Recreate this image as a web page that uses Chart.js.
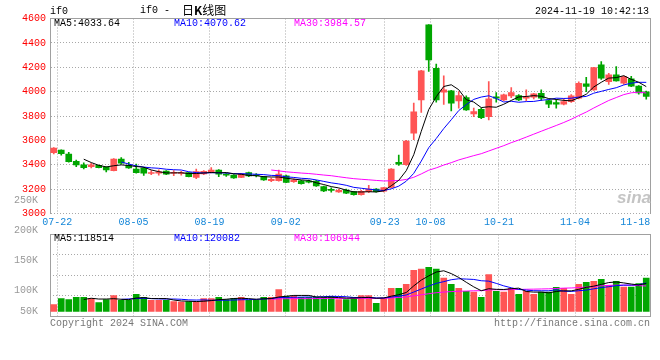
<!DOCTYPE html>
<html>
<head>
<meta charset="utf-8">
<script src="https://cdn.jsdelivr.net/npm/chart.js@4.4.1/dist/chart.umd.min.js"></script>
<style>
  body { margin: 0; background: #fff; width: 660px; height: 360px; overflow: hidden; position: relative;
         font-family: "Liberation Mono", "DejaVu Sans Mono", monospace; font-size: 10px; }
  canvas { position: absolute; left: 0; top: 0; }
  .t { position: absolute; white-space: pre; line-height: 12px; }
</style>
</head>
<body>
<canvas id="k" width="660" height="360"></canvas>
<canvas id="v" width="660" height="360"></canvas>

<div class="t" style="left:50px;top:6px">if0</div>
<div class="t" style="left:140px;top:5px">if0 -</div>
<div class="t" style="left:182px;top:2px;font:12px/16px 'Noto Sans CJK SC'">日<b>K</b>线图</div>
<div class="t" style="left:535px;top:6px">2024-11-19 10:42:13</div>

<div class="t" style="left:54px;top:18px;color:#000">MA5:4033.64</div>
<div class="t" style="left:174px;top:18px;color:#0000ff">MA10:4070.62</div>
<div class="t" style="left:294px;top:18px;color:#ff00ff">MA30:3984.57</div>

<div class="t" style="left:54px;top:233px;color:#000">MA5:118514</div>
<div class="t" style="left:174px;top:233px;color:#0000ff">MA10:120082</div>
<div class="t" style="left:294px;top:233px;color:#ff00ff">MA30:106944</div>

<div class="t" style="left:50px;top:318px;color:#777">Copyright 2024 SINA.COM</div>
<div class="t" style="left:494px;top:318px;color:#777">http://finance.sina.com.cn</div>
<div class="t" style="left:617px;top:188px;color:#c4c4c4;font:italic bold 17px/20px 'Liberation Sans'">sina</div>

<script>
// trading days shown (07-19 .. 11-18)
const dates = [
  '07-19','07-22','07-23','07-24','07-25','07-26','07-29','07-30','07-31',
  '08-01','08-02','08-05','08-06','08-07','08-08','08-09','08-12','08-13','08-14','08-15','08-16',
  '08-19','08-20','08-21','08-22','08-23','08-26','08-27','08-28','08-29','08-30',
  '09-02','09-03','09-04','09-05','09-06','09-09','09-10','09-11','09-12','09-13',
  '09-18','09-19','09-20','09-23','09-24','09-25','09-26','09-27','09-30',
  '10-08','10-09','10-10','10-11','10-14','10-15','10-16','10-17','10-18',
  '10-21','10-22','10-23','10-24','10-25','10-28','10-29','10-30','10-31',
  '11-01','11-04','11-05','11-06','11-07','11-08','11-11','11-12','11-13','11-14','11-15','11-18'
];

const opens = [
  3500,3521,3488,3428,3400,3384,3395,3380,3351,3447,3395,3365,3373,3328,3330,3349,3330,3328,3335,3297,
  3325,3336,3357,3322,3316,3297,3335,3318,3302,3270,3270,3310,3262,3269,3266,3267,3220,3198,3178,3193,
  3179,3155,3180,3200,3183,3215,3420,3400,3660,3932,4548,4192,3995,4006,3924,3951,3817,3855,3795,3958,
  3932,3965,3967,3946,3954,3987,3926,3910,3897,3918,3946,4063,4014,4219,4082,4137,4069,4104,4045,3998
];
const highs = [
  3540,3523,3502,3439,3415,3412,3398,3382,3450,3458,3420,3405,3378,3352,3358,3352,3352,3345,3338,3365,
  3352,3376,3360,3330,3320,3330,3340,3328,3306,3290,3357,3315,3285,3272,3275,3272,3225,3210,3200,3200,
  3182,3190,3232,3205,3215,3368,3480,3600,3905,4175,4550,4227,4130,4010,4000,3965,3864,3865,4082,3992,
  3980,4033,3975,4014,3985,4014,3930,3937,3940,3975,4080,4118,4200,4246,4150,4205,4128,4125,4050,4005
];
const lows = [
  3488,3478,3422,3384,3365,3373,3374,3342,3349,3405,3370,3330,3312,3318,3315,3318,3310,3315,3300,3285,
  3318,3332,3302,3305,3288,3294,3302,3300,3272,3262,3265,3252,3255,3240,3250,3222,3180,3175,3172,3162,
  3150,3150,3170,3175,3178,3210,3395,3395,3605,3830,4165,3913,3896,3842,3865,3845,3795,3778,3768,3913,
  3925,3950,3925,3926,3940,3928,3868,3864,3890,3912,3940,4000,4010,4100,4060,4085,4060,4040,3980,3938
];
const closes = [
  3537,3491,3425,3398,3377,3400,3377,3358,3447,3412,3375,3335,3330,3335,3342,3322,3336,3335,3303,3343,
  3345,3356,3322,3315,3292,3324,3308,3310,3276,3280,3324,3256,3274,3245,3258,3226,3185,3190,3190,3166,
  3155,3182,3200,3180,3212,3365,3405,3595,3835,4170,4260,3932,4014,3905,3967,3850,3836,3787,3940,3946,
  3973,3992,3932,3958,3981,3946,3897,3898,3918,3965,4069,4042,4197,4110,4137,4088,4123,4045,3990,3960
];
const volumes = [
  77000,87000,85500,89000,89000,87000,80500,85500,92000,84000,84000,94000,89000,84000,84000,84000,82000,81000,82000,81000,
  87000,87000,89000,85500,87000,89000,84000,84000,89000,89000,102000,90500,90500,89000,89000,89000,89000,90500,85500,85500,
  89000,92000,92000,79000,88000,104000,104000,110500,134000,136000,139000,136000,121000,110500,104000,99000,97700,89000,127000,99000,
  97700,104000,94000,99000,94000,97700,97700,105500,104000,94000,110500,114000,115500,119000,109000,115500,106000,106000,111700,121000
];

const tickDates = ['07-22','08-05','08-19','09-02','09-23','10-08','10-21','11-04','11-18'];
const volTicks = [50000, 100000, 150000, 200000, 250000];

const RED = '#ff5555';
const GREEN = '#00a600';
const GRID = '#a8a8a8';
const AXIS = '#a0a0a0';
const MONO = 'Liberation Mono';

function movingAvg(arr, n) {
  return arr.map((_, i) => {
    if (i < n - 1) return null;
    let s = 0;
    for (let j = i - n + 1; j <= i; j++) s += arr[j];
    return s / n;
  });
}

const upDown = closes.map((c, i) => (c >= opens[i] ? RED : GREEN));

function maLine(values, color) {
  return {
    type: 'line', data: values, borderColor: color, borderWidth: 1,
    pointRadius: 0, tension: 0, fill: false, xAxisID: 'x', yAxisID: 'y', order: 0
  };
}

// date grid / labels (sina puts them on a slightly different step than the candles)
function dateAxis(showLabels) {
  const last = tickDates.length - 1;
  return {
    type: 'linear', position: 'bottom', min: 0.05, max: 78.84, offset: false,
    afterBuildTicks: s => { s.ticks = tickDates.map(d => ({ value: Math.min(dates.indexOf(d), 76.9) })); },
    afterFit: s => { s.height = showLabels ? 16 : 0; },
    grid: { offset: false, color: c => (c.index === last ? 'rgba(0,0,0,0)' : GRID), drawTicks: false },
    border: { display: false, dash: [1, 2] },
    ticks: {
      display: showLabels, autoSkip: false, maxRotation: 0, padding: 3, color: '#1486d8',
      font: { family: MONO, size: 10 }, callback: (v, i) => tickDates[i]
    }
  };
}

function edgeAxis(pos) {
  const horiz = pos === 'top' || pos === 'bottom';
  return {
    type: 'linear', position: pos, offset: false,
    ticks: { display: false }, grid: { display: false, offset: false },
    border: { display: true, color: AXIS, width: 1 },
    afterFit: s => { if (horiz) s.height = 0; else s.width = 0; }
  };
}

const common = {
  responsive: false, animation: false, devicePixelRatio: 1,
  plugins: { legend: { display: false }, tooltip: { enabled: false } }
};

// price panel
new Chart(document.getElementById('k'), {
  type: 'bar',
  data: {
    labels: dates,
    datasets: [
      maLine(movingAvg(closes, 5), '#000000'),
      maLine(movingAvg(closes, 10), '#0000ff'),
      maLine(movingAvg(closes, 30), '#ff00ff'),
      { data: lows.map((l, i) => [l, highs[i]]), backgroundColor: upDown, barThickness: 1,
        grouped: false, order: 3, xAxisID: 'x', yAxisID: 'y' },
      { data: opens.map((o, i) => [o, closes[i]]), backgroundColor: upDown, barThickness: 6,
        minBarLength: 1, grouped: false, order: 2, xAxisID: 'x', yAxisID: 'y' }
    ]
  },
  options: {
    ...common,
    layout: { padding: { top: 18.5, right: 10, bottom: 130.5, left: 0 } },
    scales: {
      x: { type: 'category', display: false, offset: true },
      xd: dateAxis(true),
      xt: edgeAxis('top'),
      yr: edgeAxis('right'),
      y: {
        min: 3000, max: 4600,
        afterFit: s => { s.width = 50; },
        grid: { color: GRID, drawTicks: false },
        border: { color: AXIS, dash: [1, 2] },
        ticks: { stepSize: 200, autoSkip: false, padding: 4, color: '#ff0000', font: { family: MONO, size: 10 },
                 callback: v => String(v) }
      }
    }
  }
});

// volume panel
new Chart(document.getElementById('v'), {
  type: 'bar',
  data: {
    labels: dates,
    datasets: [
      maLine(movingAvg(volumes, 5), '#000000'),
      maLine(movingAvg(volumes, 10), '#0000ff'),
      maLine(movingAvg(volumes, 30), '#ff00ff'),
      { data: volumes, backgroundColor: upDown, barThickness: 6, base: 65500,
        order: 2, xAxisID: 'x', yAxisID: 'y' }
    ]
  },
  options: {
    ...common,
    layout: { padding: { top: 234.5, right: 10, bottom: 44, left: 0 } },
    scales: {
      x: { type: 'category', display: false, offset: true },
      xd: dateAxis(false),
      xt: edgeAxis('top'),
      xb: edgeAxis('bottom'),
      yg: {
        type: 'linear', position: 'right', min: 0, max: 4,
        afterFit: s => { s.width = 0; },
        ticks: { display: false, stepSize: 1 },
        grid: { color: GRID, drawTicks: false },
        border: { display: true, color: AXIS, dash: [1, 2] }
      },
      y: {
        min: 58000, max: 193500,
        afterFit: s => { s.width = 50; },
        afterBuildTicks: s => { s.ticks = volTicks.map(v => ({ value: Math.max(v, s.min + 7500) })); },
        grid: { display: false },
        border: { color: AXIS },
        ticks: { autoSkip: false, padding: 4, color: '#999999', font: { family: MONO, size: 10 },
                 callback: (v, i) => volTicks[i] / 1000 + 'K' }
      }
    }
  }
});
</script>
</body>
</html>
